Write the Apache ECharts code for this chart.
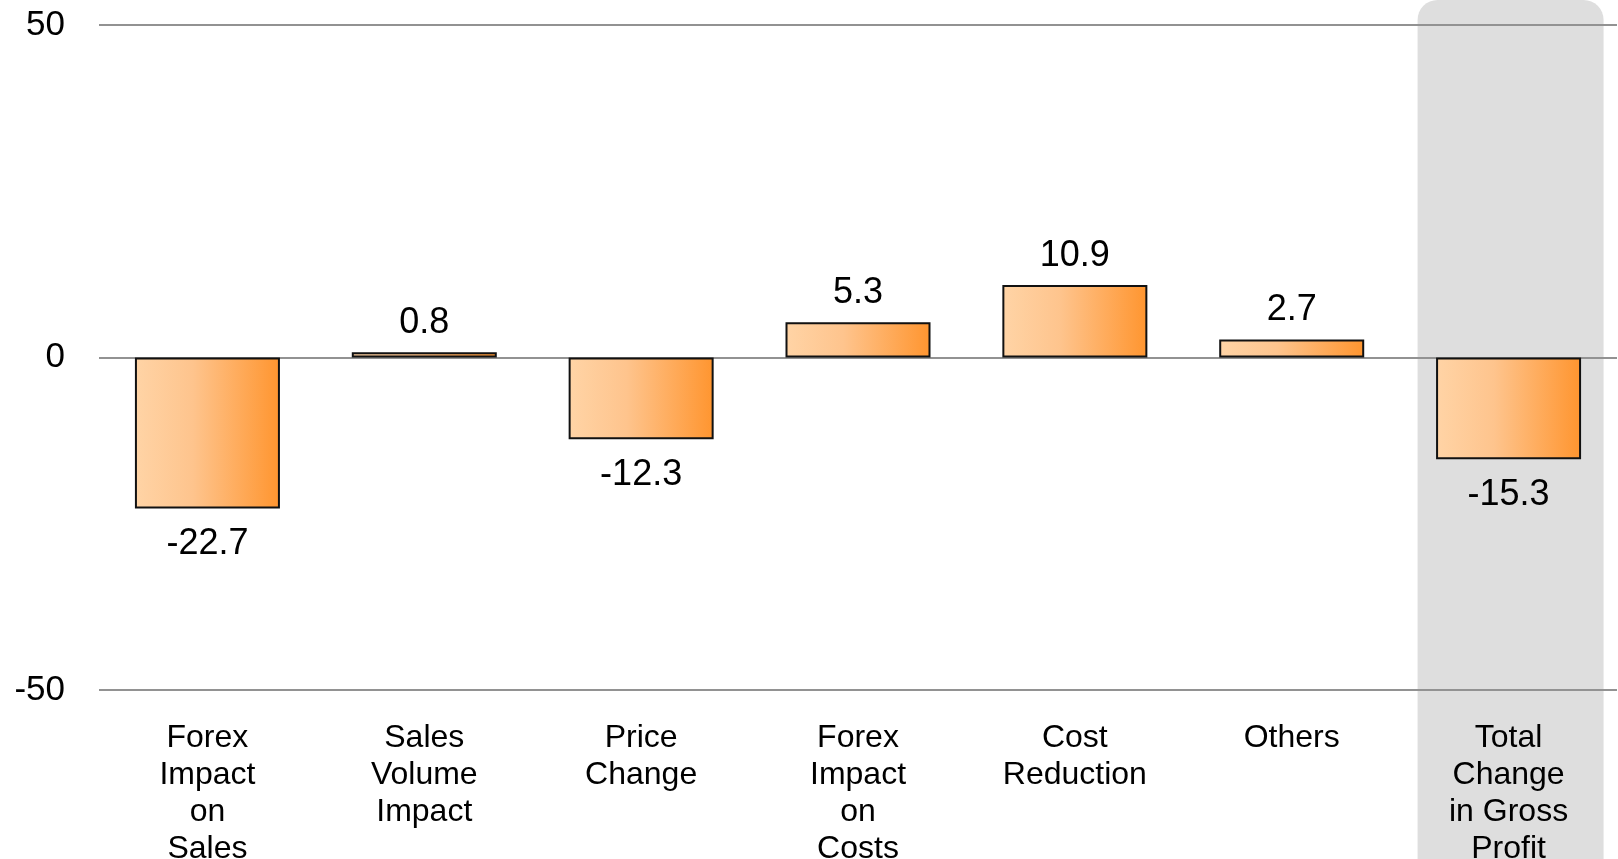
<!DOCTYPE html>
<html>
<head>
<meta charset="utf-8">
<script src="https://cdn.jsdelivr.net/npm/echarts@6/dist/echarts.min.js"></script>
<style>
  html, body { margin: 0; padding: 0; background: #fff; }
  #chart { width: 1618px; height: 859px; }
</style>
</head>
<body>
<div id="chart"></div>
<script>
  // gross profit bridge — each driver's change, plus the total
  const categories = [
    "Forex\nImpact\non\nSales",
    "Sales\nVolume\nImpact",
    "Price\nChange",
    "Forex\nImpact\non\nCosts",
    "Cost\nReduction",
    "Others",
    "Total\nChange\nin Gross\nProfit"
  ];
  const values = [-22.7, 0.8, -12.3, 5.3, 10.9, 2.7, -15.3];
  const yTicks = [-50, 0, 50];
  const highlightIndex = 6; // the total column sits on a grey panel

  const FONT = "'Liberation Sans', Arial, sans-serif";

  const barFill = {
    type: "linear", x: 0, y: 0, x2: 1, y2: 0,
    colorStops: [
      { offset: 0, color: "#ffd4a6" },
      { offset: 0.4, color: "#fec48d" },
      { offset: 1, color: "#ff952f" }
    ]
  };

  const chart = echarts.init(document.getElementById("chart"), null, { renderer: "canvas" });
  chart.setOption({
    animation: false,
    backgroundColor: "#fff",
    textStyle: { fontFamily: FONT },
    grid: { left: 99, right: 1, top: 25, bottom: 169, containLabel: false, outerBoundsMode: "none" },
    xAxis: {
      type: "category",
      data: categories,
      axisLine: { show: false },
      axisTick: { show: false },
      axisLabel: { color: "#000", fontSize: 32, lineHeight: 37, margin: 30, fontFamily: FONT, interval: 0 }
    },
    yAxis: {
      type: "value",
      min: yTicks[0], max: yTicks[yTicks.length - 1], interval: 50,
      axisLine: { show: false },
      axisTick: { show: false },
      axisLabel: { color: "#000", fontSize: 35, margin: 34, fontFamily: FONT },
      splitLine: { show: true, lineStyle: { color: "#929292", width: 2 } }
    },
    series: [{
      type: "bar",
      barWidth: 145,
      data: values.map((v) => ({
        value: v,
        label: v >= 0 ? { position: "top", distance: 11 } : { position: "bottom", distance: 18 }
      })),
      itemStyle: { color: barFill, borderColor: "#111", borderWidth: 2 },
      label: { show: true, color: "#000", fontSize: 36, fontFamily: FONT }
    }]
  });

  // grey panel behind the total column, centred on its category
  const cx = chart.convertToPixel({ xAxisIndex: 0 }, categories[highlightIndex]);
  chart.setOption({
    graphic: [{
      type: "rect", z: -10,
      shape: { x: cx + 2 - 93, y: 0, width: 186, height: 900, r: [20, 20, 0, 0] },
      style: { fill: "#dedede" }
    }]
  });
</script>
</body>
</html>
